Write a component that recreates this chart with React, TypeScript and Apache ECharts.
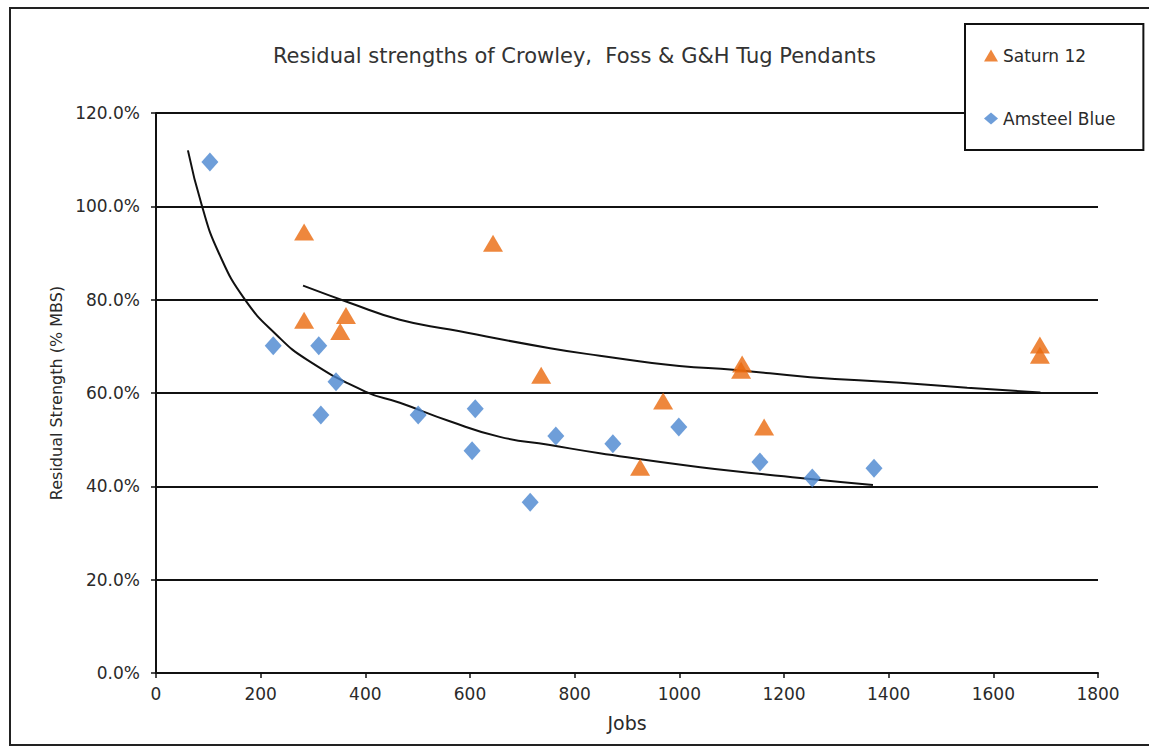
import React, { useEffect, useRef } from "react";
import * as echarts from "echarts";

const titleText = "Residual strengths of Crowley,  Foss & G&H Tug Pendants";
const xAxisName = "Jobs";
const yAxisName = "Residual Strength (% MBS)";
const xTicks = [0, 200, 400, 600, 800, 1000, 1200, 1400, 1600, 1800];
const yTicks = [0, 20, 40, 60, 80, 100, 120];

const saturnName = "Saturn 12";
const saturnX = [283, 283, 352, 363, 644, 736, 969, 925, 1120, 1118, 1162, 1689, 1689];
const saturnY = [94.5, 75.6, 73.2, 76.6, 92.1, 63.8, 58.3, 44.1, 66.2, 64.9, 52.7, 70.3, 68.1];

const amsteelName = "Amsteel Blue";
const amsteelX = [103, 224, 311, 315, 344, 501, 610, 604, 715, 764, 873, 999, 1154, 1254, 1372];
const amsteelY = [109.5, 70.1, 70.1, 55.3, 62.4, 55.3, 56.6, 47.6, 36.6, 50.8, 49.1, 52.7, 45.2, 41.8, 43.9];

// trend lines
const amsteelTrendX = [61, 88, 120, 170, 230, 289, 400, 466, 560, 657, 750, 848, 1040, 1231, 1370];
const amsteelTrendY = [112.0, 100.0, 90.0, 80.0, 72.5, 67.1, 60.3, 57.9, 54.0, 50.6, 48.9, 47.1, 44.1, 41.8, 40.3];
const saturnTrendX = [281, 371, 466, 562, 753, 848, 1000, 1103, 1250, 1422, 1550, 1690];
const saturnTrendY = [83.0, 79.3, 75.7, 73.6, 69.6, 68.0, 65.8, 65.0, 63.4, 62.2, 61.1, 60.1];

const orange = "#EA690C";
const blue = "#4A86CF";
const font = "DejaVu Sans, Verdana, sans-serif";
const textColor = "#2a2a2a";

const zip = (xs: number[], ys: number[]) => xs.map((x, i) => [x, ys[i]]);

export default function App() {
  const ref = useRef<HTMLDivElement>(null);
  useEffect(() => {
    if (!ref.current) return;
    const chart = echarts.init(ref.current, null, { renderer: "svg" });
    chart.setOption({
      animation: false,
      backgroundColor: "#fff",
      textStyle: { fontFamily: font },
      title: {
        text: titleText,
        left: "center",
        top: 40,
        textStyle: { fontFamily: font, fontSize: 21, fontWeight: "normal", color: "#333" },
      },
      legend: {
        orient: "vertical",
        left: 965,
        top: 24,
        data: [
          { name: saturnName, icon: "triangle" },
          { name: amsteelName, icon: "diamond" },
        ],
        itemWidth: 14,
        itemHeight: 12,
        itemGap: 46,
        padding: [23, 28, 23, 19],
        borderColor: "#111",
        borderWidth: 2,
        backgroundColor: "#fff",
        textStyle: { fontFamily: font, fontSize: 17, color: textColor },
      },
      grid: { left: 156, top: 113, right: 51, bottom: 76, containLabel: false },
      xAxis: {
        type: "value",
        min: xTicks[0],
        max: xTicks[xTicks.length - 1],
        interval: xTicks[1] - xTicks[0],
        name: xAxisName,
        nameLocation: "middle",
        nameGap: 40,
        nameTextStyle: { fontFamily: font, fontSize: 19, color: textColor },
        axisLine: { lineStyle: { color: "#111", width: 2 } },
        axisTick: { show: true, length: 5, lineStyle: { color: "#111", width: 1.5 } },
        axisLabel: {
          fontFamily: font,
          fontSize: 17,
          color: textColor,
          margin: 12,
          formatter: (v: number) => String(v),
        },
        splitLine: { show: false },
      },
      yAxis: {
        type: "value",
        min: yTicks[0],
        max: yTicks[yTicks.length - 1],
        interval: yTicks[1] - yTicks[0],
        name: yAxisName,
        nameLocation: "middle",
        nameGap: 86,
        nameRotate: 90,
        nameTextStyle: { fontFamily: font, fontSize: 16, color: textColor },
        axisLine: { show: true, lineStyle: { color: "#111", width: 2 } },
        axisTick: { show: true, length: 5, lineStyle: { color: "#111", width: 1.5 } },
        axisLabel: {
          fontFamily: font,
          fontSize: 17,
          color: textColor,
          margin: 16,
          formatter: (v: number) => v.toFixed(1) + "%",
        },
        splitLine: { show: true, lineStyle: { color: "#111", width: 2 } },
      },
      graphic: [
        {
          type: "rect",
          shape: { x: 10, y: 8, width: 1160, height: 737 },
          style: { fill: "none", stroke: "#222", lineWidth: 2 },
          silent: true,
          z: -1,
        },
      ],
      series: [
        {
          name: "amsteelTrend",
          type: "line",
          data: zip(amsteelTrendX, amsteelTrendY),
          smooth: true,
          showSymbol: false,
          symbol: "none",
          lineStyle: { color: "#111", width: 2 },
          z: 3,
        },
        {
          name: "saturnTrend",
          type: "line",
          data: zip(saturnTrendX, saturnTrendY),
          smooth: true,
          showSymbol: false,
          symbol: "none",
          lineStyle: { color: "#111", width: 2 },
          z: 3,
        },
        {
          name: saturnName,
          type: "scatter",
          symbol: "triangle",
          symbolSize: [20, 17],
          itemStyle: { color: orange },
          data: zip(saturnX, saturnY),
          z: 4,
        },
        {
          name: amsteelName,
          type: "scatter",
          symbol: "diamond",
          symbolSize: [17, 19],
          itemStyle: { color: blue },
          data: zip(amsteelX, amsteelY),
          z: 4,
        },
      ],
    });
    return () => chart.dispose();
  }, []);
  return (
    <div
      ref={ref}
      style={{ position: "fixed", left: 0, top: 0, width: 1149, height: 749, background: "#fff" }}
    />
  );
}
